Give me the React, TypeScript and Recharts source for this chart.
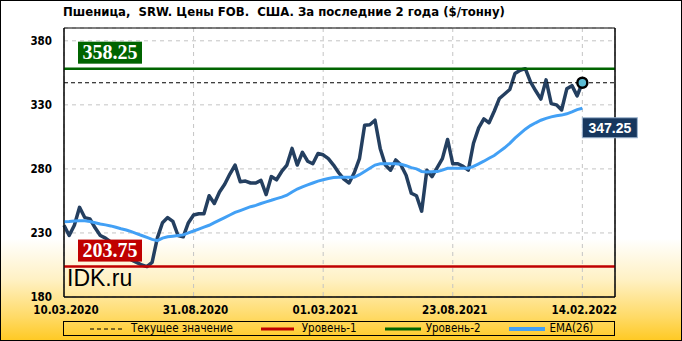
import React from 'react';
import {
  LineChart,
  Line,
  XAxis,
  YAxis,
  CartesianGrid,
  ReferenceLine,
  ReferenceDot,
  ReferenceArea,
} from 'recharts';

// weekly prices, $/t
const price = [
  236, 228, 236, 250, 242, 241, 234, 228, 226, 223,
  219, 216, 212, 209, 207, 205, 203.75, 207, 226, 238,
  242, 239, 228, 227, 238, 244, 245, 245, 259, 253,
  262, 268, 276, 283, 270, 270.5, 269, 269, 271, 260,
  274, 271.5, 278, 283, 296, 283, 293, 286, 284, 292,
  291, 288, 283, 277, 272, 269, 277, 288, 314, 314.5,
  318, 296, 283, 279, 287, 283, 275, 261, 259, 247,
  279, 274, 281, 288, 303, 284, 284, 282, 279, 300,
  312, 319, 316, 325, 335, 338.5, 342, 354.5, 357, 358.25,
  348, 341, 334.5, 349.5, 331, 330, 326, 342.5, 345, 337,
  347.25,
];

// EMA(26)
const ema = [
  238.8, 239, 239.3, 239.6, 239.5, 239, 238, 237, 236.3, 235.5,
  234.5, 233.3, 232.3, 231, 229.5, 228, 226.5, 225, 224, 226,
  227, 227.5, 228, 228.5, 230, 231.5, 233, 234.5, 236, 238,
  240, 242, 244, 246, 247.5, 249, 250.5, 251.5, 253, 254.3,
  255.5, 256.8, 258, 259.5, 262, 264.3, 266, 267.5, 269, 270.5,
  271.5, 272.5, 273.3, 273.5, 273.5, 273.5, 273.5, 275.5, 278, 280.5,
  283, 284, 284, 284, 284, 283.7, 282.5, 281, 280, 278,
  277.5, 277.7, 277.9, 279, 280.5, 280.5, 280.5, 280.5, 280.5, 282,
  284, 286, 288.3, 290.5, 293.5, 296.5, 300, 304, 307.5, 311,
  313.8, 316, 318, 319.5, 320.6, 321.5, 322, 323, 324.5, 326.3,
  327.4,
];

const xTickIdx = [0, 25, 50, 75, 100];
const xTickLabels = ['10.03.2020', '31.08.2020', '01.03.2021', '23.08.2021', '14.02.2022'];
const yTicks = [180, 230, 280, 330, 380];

const level1 = 203.75;
const level2 = 358.25;
const current = 347.25;

const legendNames = ['Текущее значение', 'Уровень-1', 'Уровень-2', 'EMA(26)'];

const rows = price.map((p, i) => ({ i, price: p, ema: ema[i] }));
const lastIdx = price.length - 1;

const tickFont = {
  fill: '#000',
  fontSize: 11.5,
  fontWeight: 'bold' as const,
  fontFamily: "'DejaVu Sans Condensed', 'DejaVu Sans', sans-serif",
};

const levelLabel = (text: string, color: string) => (props: any) => {
  const { viewBox } = props;
  if (!viewBox) return null;
  const x = viewBox.x + 14;
  const y = viewBox.y - 27;
  return (
    <g>
      <rect x={x} y={y} width={64} height={22} fill={color} />
      <text
        x={x + 32}
        y={y + 17}
        textAnchor="middle"
        fill="#fff"
        fontSize={20}
        fontWeight="bold"
        fontFamily="'Liberation Serif', serif"
      >
        {text}
      </text>
    </g>
  );
};

const LastDot = (props: any) => {
  const { cx, cy } = props;
  return (
    <g>
      <circle cx={cx} cy={cy} r={5} fill="#5cbcd4" stroke="#000" strokeWidth={2.5} />
      <rect x={cx} y={cy + 35} width={55} height={20} fill="#17375e" stroke="#9db5cf" strokeWidth={1} />
      <text
        x={cx + 27.5}
        y={cy + 50}
        textAnchor="middle"
        fill="#fff"
        fontSize={14}
        fontWeight="bold"
        fontFamily="'Liberation Sans', Arial, sans-serif"
      >
        {current.toFixed(2)}
      </text>
    </g>
  );
};

const legendMarks = [
  <line x1={0} y1={4} x2={32} y2={4} stroke="#000" strokeWidth={1} strokeDasharray="4 3" />,
  <line x1={0} y1={4} x2={33} y2={4} stroke="#c00000" strokeWidth={3} />,
  <line x1={0} y1={4} x2={36} y2={4} stroke="#006400" strokeWidth={3} />,
  <line x1={0} y1={4} x2={36} y2={4} stroke="#42a0f5" strokeWidth={4} />,
];

export default function App() {
  return (
    <div
      style={{
        position: 'absolute',
        left: 0,
        top: 0,
        width: 682,
        height: 341,
        background:
          'linear-gradient(to bottom, #ffffff 0%, #ffffff 70%, #fff1c4 82%, #ffda66 93%, #ffc922 100%)',
      }}
    >
      <div
        style={{
          position: 'absolute',
          left: 63,
          top: 4,
          whiteSpace: 'pre',
          fontSize: 13,
          fontWeight: 'bold',
          fontFamily: "'DejaVu Sans Condensed', 'DejaVu Sans', sans-serif",
          color: '#000',
        }}
      >
        {'Пшеница,  SRW. Цены FOB.  США. За последние 2 года ($/тонну)'}
      </div>
      <LineChart width={682} height={341} data={rows} margin={{ top: 28, right: 27, bottom: 24, left: 24 }}>
        <CartesianGrid stroke="#c4c4c4" strokeDasharray="4 4" />
        <XAxis
          dataKey="i"
          type="number"
          domain={[0, 106.3]}
          ticks={xTickIdx}
          interval={0}
          tickFormatter={(v: number) => xTickLabels[xTickIdx.indexOf(v)] ?? ''}
          axisLine={{ stroke: '#000' }}
          tickLine={false}
          tickSize={0}
          tickMargin={9}
          tick={tickFont}
          height={20}
          dx={2}
        />
        <YAxis
          domain={[180, 390]}
          ticks={yTicks}
          interval={0}
          width={40}
          axisLine={{ stroke: '#000' }}
          tickLine={false}
          tickSize={0}
          tickMargin={12}
          tick={tickFont}
        />
        <YAxis
          yAxisId="r"
          orientation="right"
          domain={[180, 390]}
          ticks={yTicks}
          interval={0}
          width={40}
          axisLine={{ stroke: '#000' }}
          tickLine={false}
          tickSize={0}
          tickMargin={12}
          tick={{ ...tickFont, textAnchor: 'start' }}
        />
        <ReferenceArea x1={0} x2={106.3} y1={180} y2={390} fill="none" stroke="#000" strokeWidth={1} />
        <Line dataKey="price" type="linear" stroke="#243f60" strokeWidth={3.5} dot={false} isAnimationActive={false} strokeLinejoin="round" />
        <Line dataKey="ema" type="linear" stroke="#42a0f5" strokeWidth={3} dot={false} isAnimationActive={false} />
        <ReferenceLine y={current} stroke="#000" strokeWidth={1} strokeDasharray="4 3" />
        <ReferenceLine y={level2} stroke="#006400" strokeWidth={2.5} label={{ content: levelLabel(level2.toFixed(2), '#006400') }} />
        <ReferenceLine y={level1} stroke="#c00000" strokeWidth={2.5} label={{ content: levelLabel(level1.toFixed(2), '#c00000') }} />
        <ReferenceDot x={lastIdx} y={price[lastIdx]} r={5} shape={LastDot} />
        <text x={67} y={286} fontSize={23} fontFamily="'Liberation Sans', Arial, sans-serif" fill="#000">
          IDK.ru
        </text>
      </LineChart>
      <div
        style={{
          position: 'absolute',
          left: 63,
          top: 321,
          width: 552,
          height: 15,
          boxSizing: 'border-box',
          border: '1px solid #000',
          display: 'flex',
          alignItems: 'center',
          paddingLeft: 26,
          gap: 28,
          fontSize: 11.5,
          fontFamily: "'DejaVu Sans Condensed', 'DejaVu Sans', sans-serif",
          color: '#000',
        }}
      >
        {legendNames.map((name, k) => (
          <div key={name} style={{ display: 'flex', alignItems: 'center', gap: 5 }}>
            <svg width={36} height={8} style={{ display: 'block' }}>
              {legendMarks[k]}
            </svg>
            <span style={{ lineHeight: '13px' }}>{name}</span>
          </div>
        ))}
      </div>
      <div
        style={{
          position: 'absolute',
          left: 0,
          top: 0,
          width: 682,
          height: 341,
          boxSizing: 'border-box',
          border: '1px solid #000',
          pointerEvents: 'none',
        }}
      />
    </div>
  );
}
